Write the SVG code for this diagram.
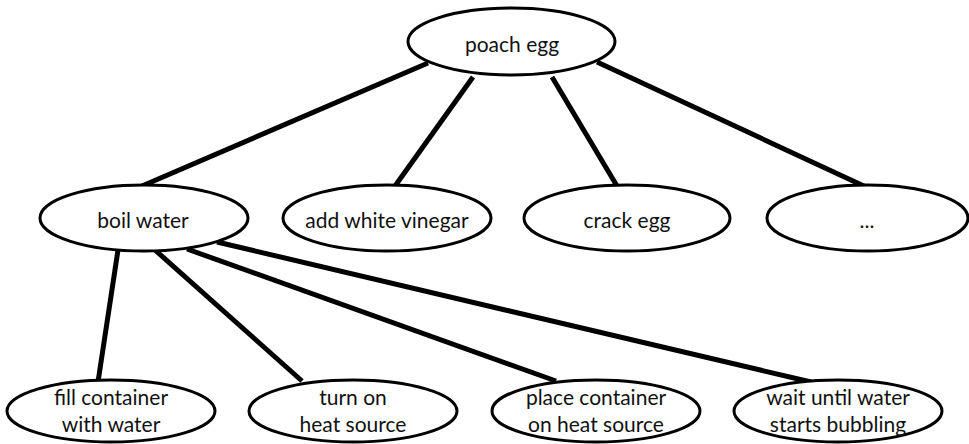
<svg xmlns="http://www.w3.org/2000/svg" width="969" height="444" viewBox="0 0 969 444">
  <style>
    .edge { stroke: #000; stroke-width: 5; stroke-linecap: butt; fill: none; }
    .node ellipse { fill: #fff; stroke: #000; stroke-width: 3; }
    .node text { font-family: "Lato", "Open Sans", sans-serif; font-size: 21px; fill: #111; text-anchor: middle; }
  </style>
  <rect width="969" height="444" fill="#fff"/>
  <g id="connectors">
    <line class="edge" x1="428" y1="63" x2="142" y2="186"/>
    <line class="edge" x1="473" y1="77" x2="395" y2="186"/>
    <line class="edge" x1="552" y1="77" x2="617" y2="186"/>
    <line class="edge" x1="597" y1="62" x2="866" y2="187"/>
    <line class="edge" x1="118" y1="250" x2="98" y2="382"/>
    <line class="edge" x1="155" y1="250" x2="302" y2="381"/>
    <line class="edge" x1="187" y1="249" x2="556" y2="381"/>
    <line class="edge" x1="217" y1="242" x2="811" y2="382"/>
  </g>
  <g id="poach-egg" class="node">
    <ellipse cx="511.5" cy="41.5" rx="103.5" ry="33.5"/>
    <text x="512" y="52">poach egg</text>
  </g>
  <g id="boil-water" class="node">
    <ellipse cx="144" cy="218" rx="104" ry="33"/>
    <text x="143" y="228">boil water</text>
  </g>
  <g id="add-white-vinegar" class="node">
    <ellipse cx="387" cy="218" rx="104" ry="33"/>
    <text x="387" y="228">add white vinegar</text>
  </g>
  <g id="crack-egg" class="node">
    <ellipse cx="627" cy="218" rx="103" ry="33"/>
    <text x="627" y="228">crack egg</text>
  </g>
  <g id="more" class="node">
    <ellipse cx="867.5" cy="218" rx="100.5" ry="33"/>
    <text x="867" y="228">...</text>
  </g>
  <g id="fill-container" class="node">
    <ellipse cx="111" cy="411" rx="104" ry="31"/>
    <text x="111" y="405">fill container</text>
    <text x="111" y="432">with water</text>
  </g>
  <g id="turn-on-heat" class="node">
    <ellipse cx="353" cy="411" rx="104" ry="31"/>
    <text x="353" y="405">turn on</text>
    <text x="353" y="432">heat source</text>
  </g>
  <g id="place-container" class="node">
    <ellipse cx="596" cy="411" rx="104" ry="31"/>
    <text x="596" y="405">place container</text>
    <text x="596" y="432">on heat source</text>
  </g>
  <g id="wait-bubbling" class="node">
    <ellipse cx="838" cy="411" rx="104" ry="31"/>
    <text x="838" y="405">wait until water</text>
    <text x="838" y="432">starts bubbling</text>
  </g>
</svg>
